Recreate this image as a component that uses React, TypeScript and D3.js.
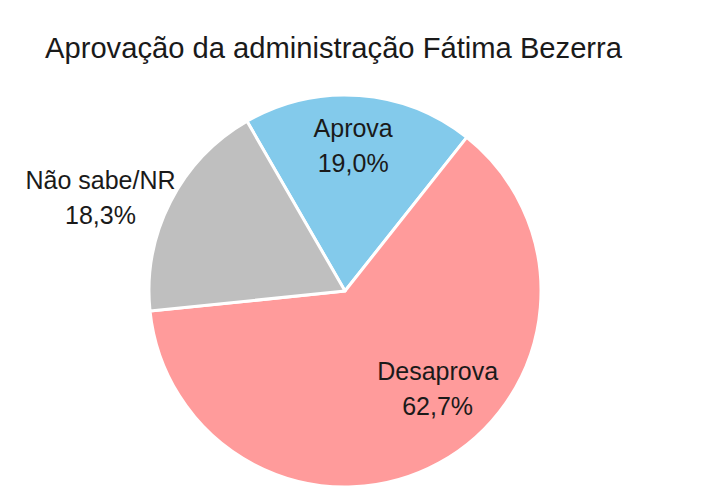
import React from "react";
import * as d3 from "d3";

const categories = ["Aprova", "Desaprova", "Não sabe/NR"];
const values = [19.0, 62.7, 18.3];
const valueLabels = ["19,0%", "62,7%", "18,3%"];
const colors = ["#83CAEB", "#FF9B9B", "#BFBFBF"];
const title = "Aprovação da administração Fátima Bezerra";

// label placement: polar (radius, angle shift in degrees) relative to slice mid-angle
const labelRadius = [146, 134, 262];
const labelAngleShift = [-1, -15, -6];

export default function App() {
  const W = 721, H = 504;
  const cx = 345, cy = 291, R = 196;
  const startDeg = -30;
  const pie = d3
    .pie<number>()
    .sort(null)
    .startAngle((startDeg * Math.PI) / 180)
    .endAngle(((startDeg + 360) * Math.PI) / 180);
  const arcs = pie(values);
  const arc = d3.arc<d3.PieArcDatum<number>>().innerRadius(0).outerRadius(R);
  const font = "'Liberation Sans', Arial, sans-serif";
  return (
    <svg width={W} height={H} style={{ position: "absolute", left: 0, top: 0, background: "#fff" }}>
      <text x={45} y={58} fontFamily={font} fontSize={29} fill="#1a1a1a" textLength={577} lengthAdjust="spacingAndGlyphs">
        {title}
      </text>
      <g transform={`translate(${cx},${cy})`}>
        {arcs.map((a, i) => (
          <path key={i} d={arc(a) || ""} fill={colors[i]} stroke="#fff" strokeWidth={3} strokeLinejoin="round" />
        ))}
        {arcs.map((a, i) => {
          const mid = (a.startAngle + a.endAngle) / 2 + (labelAngleShift[i] * Math.PI) / 180;
          const r = labelRadius[i];
          const x = r * Math.sin(mid);
          const y = -r * Math.cos(mid);
          return (
            <text key={"t" + i} x={x} y={y} textAnchor="middle" fontFamily={font} fontSize={25} fill="#1a1a1a">
              <tspan x={x} dy={-8}>{categories[i]}</tspan>
              <tspan x={x} dy={35}>{valueLabels[i]}</tspan>
            </text>
          );
        })}
      </g>
    </svg>
  );
}
